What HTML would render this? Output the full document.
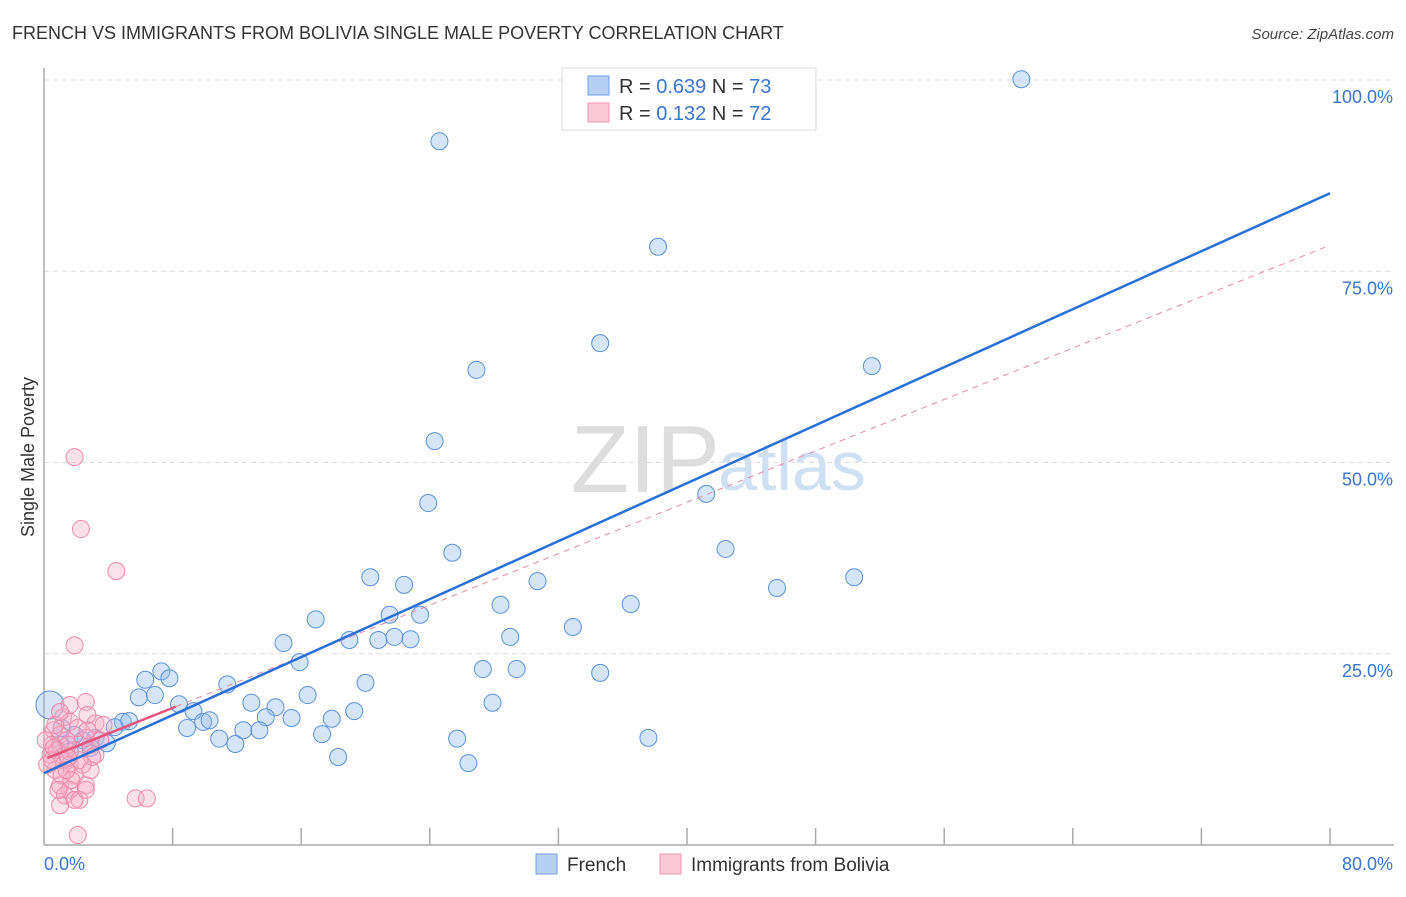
<!DOCTYPE html>
<html><head><meta charset="utf-8"><style>
body{margin:0;background:#fff;font-family:"Liberation Sans",sans-serif;}
svg text{font-family:"Liberation Sans",sans-serif;}
</style></head><body>
<svg id="chart" width="1406" height="892" xmlns="http://www.w3.org/2000/svg">
<text x="12" y="39" font-size="18" fill="#333">FRENCH VS IMMIGRANTS FROM BOLIVIA SINGLE MALE POVERTY CORRELATION CHART</text>
<text x="1394" y="39" font-size="15" fill="#444" text-anchor="end" font-style="italic">Source: ZipAtlas.com</text>
<text x="720" y="492" font-size="96" fill="#ddd" text-anchor="end" font-family="Liberation Serif">ZIP</text>
<text x="718" y="490" font-size="70" fill="#cfe0f3">atlas</text>
<g id="grid"></g><g id="axes"></g><g id="marks"></g><g id="lines"></g>
<text transform="translate(34,457) rotate(-90)" font-size="18" fill="#333" text-anchor="middle">Single Male Poverty</text>
<g>
<rect x="562" y="68" width="254" height="62" fill="#fff" stroke="#ddd"/>
<rect x="588" y="76" width="21" height="19" fill="#b7d1f5" stroke="#6ea0e8"/>
<rect x="588" y="103" width="21" height="19" fill="#fbc9d7" stroke="#f09ab2"/>
<text x="619" y="93" font-size="20" fill="#333">R = <tspan fill="#3a75d0">0.639</tspan>   N = <tspan fill="#3a75d0">73</tspan></text>
<text x="619" y="120" font-size="20" fill="#333">R =  <tspan fill="#3a75d0">0.132</tspan>   N = <tspan fill="#3a75d0">72</tspan></text>
</g>
<g>
<rect x="536" y="854" width="21" height="20" fill="#b7d1f5" stroke="#6ea0e8"/>
<text x="567" y="871" font-size="19" fill="#333">French</text>
<rect x="660" y="854" width="21" height="20" fill="#fbc9d7" stroke="#f09ab2"/>
<text x="691" y="871" font-size="19" fill="#333">Immigrants from Bolivia</text>
</g>
</svg>
<script>
const yTicks=[25,50,75,100];
const yTickLabels=["25.0%","50.0%","75.0%","100.0%"];
const xTicks=[0,8,16,24,32,40,48,56,64,72,80];
const frenchX=[0.37,60.8,24.6,38.2,34.6,26.9,51.5,24.3,23.9,41.2,25.4,42.4,20.3,22.4,30.7,45.6,50.4,28.4,36.5,21.5,23.4,16.9,32.9,14.9,19.0,20.8,21.8,22.8,29.0,15.9,27.3,29.4,34.6,7.3,6.3,7.8,11.4,5.9,6.9,20.0,16.4,12.9,14.4,8.4,9.3,13.8,15.4,17.9,19.3,8.9,9.9,10.3,12.4,13.4,17.3,10.9,11.9,25.7,37.6,18.3,26.4,4.9,5.3,4.4,27.9,3.2,3.9,2.4,1.9,1.0,1.6,2.9,1.1,33.7];
const frenchY=[18.3,100.1,92.0,78.2,65.6,62.1,62.6,52.8,44.7,45.9,38.2,38.7,35.0,34.0,34.5,33.6,35.0,31.4,31.5,30.1,30.1,29.5,28.5,26.4,26.8,26.8,27.2,26.9,27.2,23.9,23.0,23.0,22.5,22.7,21.6,21.8,21.0,19.3,19.6,21.2,19.6,18.6,18.0,18.4,17.5,16.7,16.6,16.5,17.5,15.3,16.1,16.3,15.0,15.0,14.5,13.9,13.2,13.9,14.0,11.5,10.7,16.1,16.2,15.4,18.6,14.0,13.3,13.7,14.4,13.1,12.2,12.7,15.3,100.1];
const boliviaX=[1.9,2.3,4.5,1.9,2.6,1.2,1.6,3.2,2.7,0.6,1.0,1.4,0.8,1.2,1.6,0.4,0.7,1.9,2.6,1.0,1.6,1.3,2.2,1.0,2.1,5.7,6.4,2.9,3.2,1.9,0.5,0.2,1.5,2.2,2.9,1.1,1.7,0.7,2.1,2.6,3.5,3.0,2.4,1.4,0.9,1.9,0.5,0.1,2.7,1.6,1.0,3.7,2.6,1.5,0.6];
const boliviaY=[50.7,41.3,35.8,26.1,18.7,16.7,16.1,15.9,17.0,15.0,14.4,13.7,12.4,11.1,10.5,11.8,9.8,9.1,7.8,7.8,7.2,6.5,5.9,5.2,1.3,6.1,6.1,13.1,11.8,12.4,13.1,10.5,13.1,11.1,9.8,9.1,8.5,15.7,15.3,14.0,13.7,11.5,10.5,9.8,7.2,5.9,11.1,13.7,15.0,18.3,17.4,15.7,7.2,11.4,12.7];
const frenchFit=[9.4,0.9475];
const boliviaFit=[11.2,0.84];
const NS="http://www.w3.org/2000/svg";
const X0=44,X1=1330,Y0=845,Y100=80;
const sx=v=>X0+(v/80)*(X1-X0);
const sy=v=>Y0-(v/100)*(Y0-Y100);
function mk(tag,attrs,parent){const e=document.createElementNS(NS,tag);for(const k in attrs)e.setAttribute(k,attrs[k]);document.getElementById(parent).appendChild(e);return e;}
yTicks.forEach((t,i)=>{
  const l=mk('line',{x1:X0,x2:1394,y1:sy(t),y2:sy(t),stroke:'#ddd','stroke-dasharray':'5,4'},'grid');
  
  
  const tx=mk('text',{x:1393,y:sy(t)+23,'font-size':18,fill:'#3a75d0','text-anchor':'end'},'grid');
  tx.textContent=yTickLabels[i];
  
  
});
const ax=mk('line',{x1:X0,x2:1394,y1:Y0,y2:Y0,stroke:'#aaa','stroke-width':1.5},'axes');


const ay=mk('line',{x1:X0,x2:X0,y1:68,y2:Y0,stroke:'#aaa','stroke-width':1.5},'axes');


xTicks.forEach(t=>{
  if(t===0)return;
  const l=mk('line',{x1:sx(t),x2:sx(t),y1:828,y2:Y0,stroke:'#aaa','stroke-width':1.5},'axes');
  
  
});
const xl0=mk('text',{x:44,y:870,'font-size':18,fill:'#3a75d0'},'axes');xl0.textContent='0.0%';


const xl1=mk('text',{x:1393,y:870,'font-size':18,fill:'#3a75d0','text-anchor':'end'},'axes');xl1.textContent='80.0%';


frenchX.forEach((v,i)=>{
  const c=mk('circle',{cx:sx(v),cy:sy(frenchY[i]),r:i===0?14:8.5,fill:'rgba(150,190,240,0.4)',stroke:'#5b92dc','stroke-width':1},'marks');
  
  
});
boliviaX.forEach((v,i)=>{
  const c=mk('circle',{cx:sx(v),cy:sy(boliviaY[i]),r:8.5,fill:'rgba(248,170,195,0.35)',stroke:'#ee8aa8','stroke-width':1},'marks');
  
  
});
const pd=mk('line',{x1:sx(8.2),y1:sy(boliviaFit[0]+boliviaFit[1]*8.2),x2:sx(80),y2:sy(boliviaFit[0]+boliviaFit[1]*80),stroke:'#e88aa5','stroke-width':1,'stroke-dasharray':'6,5'},'lines');


const ps=mk('line',{x1:sx(0.2),y1:sy(boliviaFit[0]+boliviaFit[1]*0.2),x2:sx(8.2),y2:sy(boliviaFit[0]+boliviaFit[1]*8.2),stroke:'#e8557e','stroke-width':2.5},'lines');


const bl=mk('line',{x1:sx(0),y1:sy(frenchFit[0]),x2:sx(80),y2:sy(frenchFit[0]+frenchFit[1]*80),stroke:'#2a6fd6','stroke-width':2.5},'lines');


</script>
</body></html>
